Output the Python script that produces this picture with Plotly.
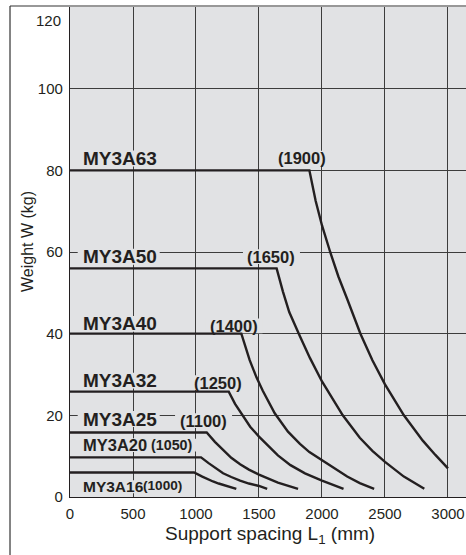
import plotly.graph_objects as go

# ---- data ----
models = ["MY3A63", "MY3A50", "MY3A40", "MY3A32", "MY3A25", "MY3A20", "MY3A16"]
spacing_labels = ["(1900)", "(1650)", "(1400)", "(1250)", "(1100)", "(1050)", "(1000)"]

my3a63_x = [0, 1900, 1950, 2000, 2065, 2130, 2200, 2305, 2400, 2500, 2650, 2800, 2900, 3000]
my3a63_w = [80, 80, 72.5, 66.5, 60, 54, 48.5, 40, 33.5, 27.6, 20, 13.8, 10.3, 7]

my3a50_x = [0, 1640, 1690, 1740, 1823, 1905, 2000, 2063, 2165, 2300, 2400, 2500, 2650, 2812]
my3a50_w = [56, 56, 50.3, 45.3, 39.5, 34, 28.3, 25, 20, 14.5, 11.3, 8.6, 5, 2]

my3a40_x = [0, 1360, 1426, 1480, 1530, 1625, 1730, 1825, 1900, 2000, 2100, 2200, 2300, 2414]
my3a40_w = [40, 40, 33.5, 29.3, 26, 20.5, 16, 13, 11, 9, 6.9, 5, 3.4, 2]

my3a32_x = [0, 1260, 1310, 1370, 1430, 1500, 1650, 1750, 1865, 2000, 2080, 2171]
my3a32_w = [25.8, 25.8, 22.8, 20, 17.2, 14.8, 10.2, 7.8, 5.8, 4, 3, 2]

my3a25_x = [0, 1085, 1150, 1215, 1280, 1350, 1420, 1500, 1650, 1810]
my3a25_w = [15.8, 15.8, 13.5, 11.5, 9.6, 8, 6.7, 5.5, 3.5, 2]

my3a20_x = [0, 1040, 1100, 1160, 1215, 1280, 1350, 1420, 1500, 1565]
my3a20_w = [9.7, 9.7, 8.3, 7, 5.8, 4.9, 4, 3.3, 2.7, 2]

my3a16_x = [0, 985, 1050, 1090, 1135, 1180, 1230, 1275, 1320]
my3a16_w = [6, 6, 5, 4.4, 3.8, 3.3, 2.8, 2.4, 2]

x_ticks = [0, 500, 1000, 1500, 2000, 2500, 3000]
y_ticks = [0, 20, 40, 60, 80, 100]

series = [
    (my3a63_x, my3a63_w),
    (my3a50_x, my3a50_w),
    (my3a40_x, my3a40_w),
    (my3a32_x, my3a32_w),
    (my3a25_x, my3a25_w),
    (my3a20_x, my3a20_w),
    (my3a16_x, my3a16_w),
]

# label placement (data coordinates) and approximate text extents (px)
model_label_y = [82.9, 58.85, 42.4, 28.5, 19.1, 12.7, 2.5]
model_label_size = [19, 19, 19, 19, 19, 16.5, 15.5]
model_label_wpx = [76, 76, 76, 76, 76, 64, 60]
paren_x = [1845, 1599, 1302, 1175, 1060, 806, 737]
paren_y = [83.0, 58.85, 41.9, 28.0, 18.7, 12.7, 2.7]
paren_size = [16.5, 16.5, 16.5, 16.5, 16.5, 14.3, 13.6]
paren_wpx = [49, 49, 49, 49, 49, 42, 39]

BG = "#e1e2e4"
INK = "#231f20"
GRID = "#3c3c3c"
FONT = "Liberation Sans, Arial, sans-serif"

X_PER_PX = 3143 / 396.0
Y_PER_PX = 120 / 490.0

fig = go.Figure()
for name, (xs, ws) in zip(models, series):
    fig.add_trace(go.Scatter(x=xs, y=ws, mode="lines", name=name,
                             line=dict(color=INK, width=2.4),
                             showlegend=False, hoverinfo="skip"))

annotations = []
shapes = []
for i, name in enumerate(models):
    annotations.append(dict(x=85, y=model_label_y[i], xref="x", yref="y", text="<b>%s</b>" % name,
                            showarrow=False, xanchor="left", yanchor="middle",
                            font=dict(family=FONT, size=model_label_size[i], color=INK)))
    annotations.append(dict(x=paren_x[i], y=paren_y[i], xref="x", yref="y", text="<b>%s</b>" % spacing_labels[i],
                            showarrow=False, xanchor="center", yanchor="middle",
                            font=dict(family=FONT, size=paren_size[i], color=INK)))
    # background patches that interrupt the grid behind the labels (below the curves)
    hh = model_label_size[i] * 0.42 * Y_PER_PX
    shapes.append(dict(type="rect", xref="x", yref="y", layer="between",
                       x0=85 - 3 * X_PER_PX, x1=85 + (model_label_wpx[i] + 3) * X_PER_PX,
                       y0=model_label_y[i] - hh, y1=model_label_y[i] + hh,
                       fillcolor=BG, line=dict(width=0)))
    hh = paren_size[i] * 0.45 * Y_PER_PX
    hw = (paren_wpx[i] / 2 + 4) * X_PER_PX
    shapes.append(dict(type="rect", xref="x", yref="y", layer="between",
                       x0=paren_x[i] - hw, x1=paren_x[i] + hw,
                       y0=paren_y[i] - hh, y1=paren_y[i] + hh,
                       fillcolor=BG, line=dict(width=0)))

# top tick label drawn just below the top edge as in the reference
annotations.append(dict(x=0, y=120, xref="paper", yref="y", text="120", showarrow=False,
                        xanchor="right", yanchor="middle", xshift=-7, yshift=-13,
                        font=dict(family=FONT, size=15, color=INK)))
# axis titles
annotations.append(dict(x=-0.1073, y=0.5214, xref="paper", yref="paper", text="Weight W (kg)",
                        showarrow=False, textangle=-90, xanchor="center", yanchor="middle",
                        font=dict(family=FONT, size=16, color=INK)))
annotations.append(dict(x=0.506, y=-0.0776, xref="paper", yref="paper",
                        text="Support spacing L<sub>1</sub> (mm)",
                        showarrow=False, xanchor="center", yanchor="middle",
                        font=dict(family=FONT, size=19, color=INK)))

# outer frame lines
shapes.append(dict(type="line", xref="paper", yref="paper", x0=-0.1515, x1=1.0, y0=1.002, y1=1.002,
                   line=dict(color="#333", width=1.2)))
shapes.append(dict(type="line", xref="paper", yref="paper", x0=-0.1515, x1=-0.1515, y0=1.002, y1=-0.2,
                   line=dict(color="#333", width=1.2)))

fig.update_layout(
    width=466, height=555,
    margin=dict(l=70, r=0, t=7, b=58, autoexpand=False),
    paper_bgcolor="white", plot_bgcolor=BG,
    font=dict(family=FONT, size=15, color=INK),
    annotations=annotations,
    shapes=shapes,
)
fig.update_xaxes(range=[0, 3143], tickvals=x_ticks, ticktext=[str(v) for v in x_ticks],
                 automargin=False,
                 showgrid=True, gridcolor=GRID, gridwidth=1, zeroline=False,
                 showline=True, linecolor=INK, linewidth=1.2,
                 ticks="outside", ticklen=3, tickcolor="rgba(0,0,0,0)",
                 tickfont=dict(family=FONT, size=15, color=INK))
fig.update_yaxes(range=[0, 120], tickvals=y_ticks, ticktext=[str(v) for v in y_ticks],
                 automargin=False,
                 showgrid=True, gridcolor=GRID, gridwidth=1, zeroline=False,
                 showline=True, linecolor=INK, linewidth=1.2,
                 ticks="outside", ticklen=3, tickcolor="rgba(0,0,0,0)",
                 tickfont=dict(family=FONT, size=15, color=INK))

fig.write_html("out.html", config={"displayModeBar": False},
               post_script="document.body.style.margin='0';document.body.style.padding='0';")
